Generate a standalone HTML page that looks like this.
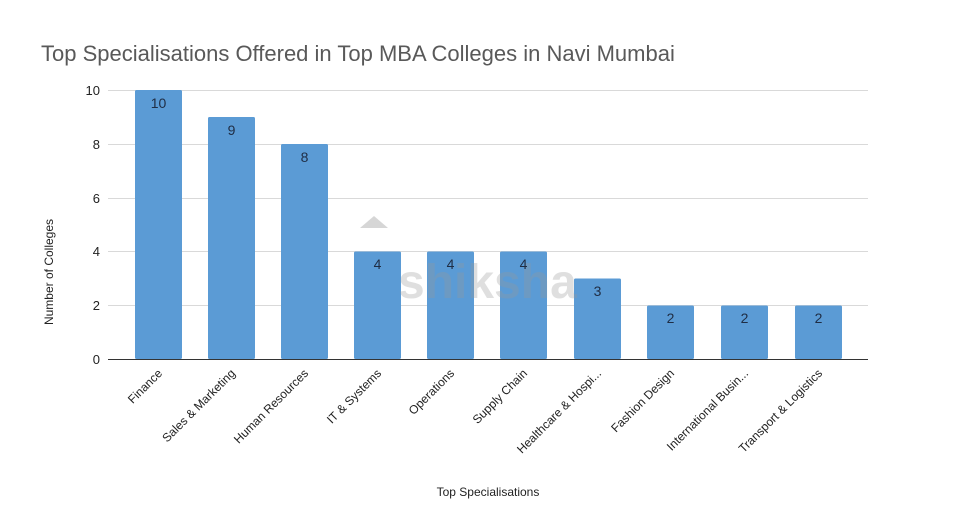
<!DOCTYPE html>
<html><head><meta charset="utf-8"><style>body{margin:0;background:#fff}svg{display:block}</style></head>
<body>
<svg width="956" height="509" viewBox="0 0 956 509" xmlns="http://www.w3.org/2000/svg" font-family="Liberation Sans, sans-serif">
<rect width="956" height="509" fill="#fff"/>
<text x="41" y="61" font-size="22" fill="#595959">Top Specialisations Offered in Top MBA Colleges in Navi Mumbai</text>
<g stroke="#d9d9d9" stroke-width="1">
<line x1="108" y1="90.5" x2="868" y2="90.5"/>
<line x1="108" y1="144.5" x2="868" y2="144.5"/>
<line x1="108" y1="198.5" x2="868" y2="198.5"/>
<line x1="108" y1="251.5" x2="868" y2="251.5"/>
<line x1="108" y1="305.5" x2="868" y2="305.5"/>
</g>
<g font-size="13" fill="#222" text-anchor="end">
<text x="100" y="95">10</text><text x="100" y="149">8</text><text x="100" y="203">6</text>
<text x="100" y="256">4</text><text x="100" y="310">2</text><text x="100" y="364">0</text>
</g>
<text x="53" y="272" font-size="12" fill="#222" text-anchor="middle" transform="rotate(-90 53 272)">Number of Colleges</text>
<g fill="#5b9bd5">
<rect x="135" y="90" width="47" height="269" rx="1.5"/>
<rect x="208" y="117" width="47" height="242" rx="1.5"/>
<rect x="281" y="144" width="47" height="215" rx="1.5"/>
<rect x="354" y="251.5" width="47" height="107.5" rx="1.5"/>
<rect x="427" y="251.5" width="47" height="107.5" rx="1.5"/>
<rect x="500" y="251.5" width="47" height="107.5" rx="1.5"/>
<rect x="574" y="278.5" width="47" height="80.5" rx="1.5"/>
<rect x="647" y="305.5" width="47" height="53.5" rx="1.5"/>
<rect x="721" y="305.5" width="47" height="53.5" rx="1.5"/>
<rect x="795" y="305.5" width="47" height="53.5" rx="1.5"/>
</g>
<text x="398" y="298" font-size="48" font-weight="bold" fill="#999" opacity="0.3">shiksha</text>
<path d="M360 228 l14 -12 l14 12 z" fill="#999" opacity="0.4"/>
<g font-size="14" fill="#1f2d44" text-anchor="middle">
<text x="158.5" y="108">10</text><text x="231.5" y="135">9</text><text x="304.5" y="162">8</text>
<text x="377.5" y="269">4</text><text x="450.5" y="269">4</text><text x="523.5" y="269">4</text>
<text x="597.5" y="296">3</text><text x="670.5" y="323">2</text><text x="744.5" y="323">2</text><text x="818.5" y="323">2</text>
</g>
<line x1="108" y1="359.5" x2="868" y2="359.5" stroke="#333" stroke-width="1"/>
<g font-size="12" fill="#222" text-anchor="end">
<text transform="translate(163 374) rotate(-45)">Finance</text>
<text transform="translate(236 374) rotate(-45)">Sales &amp; Marketing</text>
<text transform="translate(309 374) rotate(-45)">Human Resources</text>
<text transform="translate(382 374) rotate(-45)">IT &amp; Systems</text>
<text transform="translate(455 374) rotate(-45)">Operations</text>
<text transform="translate(528 374) rotate(-45)">Supply Chain</text>
<text transform="translate(602 374) rotate(-45)">Healthcare &amp; Hospi...</text>
<text transform="translate(675 374) rotate(-45)">Fashion Design</text>
<text transform="translate(749 374) rotate(-45)">International Busin...</text>
<text transform="translate(823 374) rotate(-45)">Transport &amp; Logistics</text>
</g>
<text x="488" y="496" font-size="12" fill="#222" text-anchor="middle">Top Specialisations</text>
</svg>
</body></html>
